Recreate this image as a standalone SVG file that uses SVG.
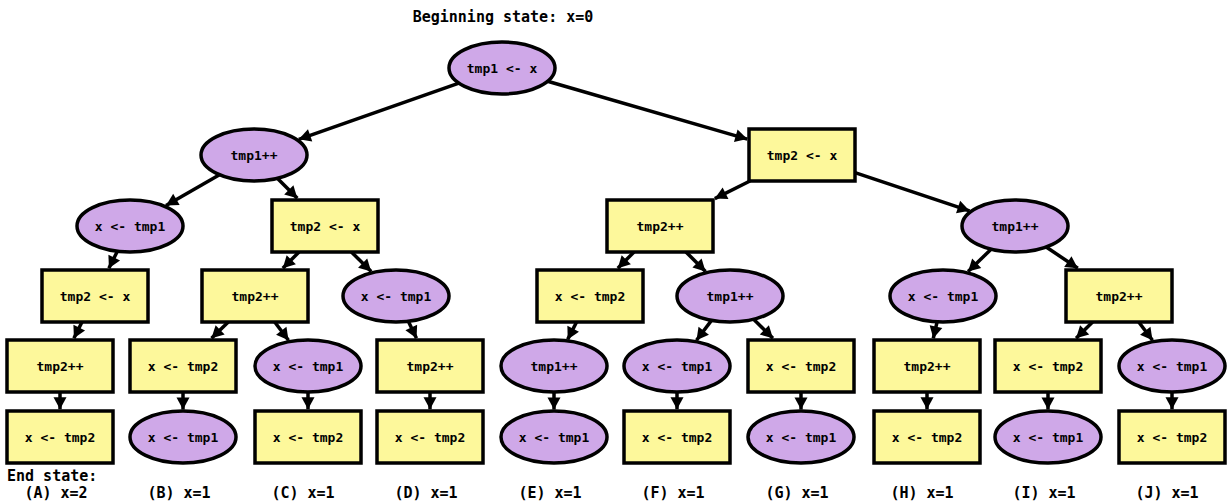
<svg xmlns="http://www.w3.org/2000/svg" width="1230" height="504" viewBox="0 0 1230 504">
<style>
.e{fill:#cfa8e8;stroke:#000;stroke-width:3.5}
.r{fill:#fdf89b;stroke:#000;stroke-width:3.5}
.t{font-family:"DejaVu Sans Mono","Liberation Mono",monospace;font-size:13px;font-weight:bold;text-anchor:middle;fill:#000}
.h{font-family:"DejaVu Sans Mono","Liberation Mono",monospace;font-size:15px;font-weight:bold;fill:#000}
.c line{stroke:#000;stroke-width:3.5;marker-end:url(#a)}
</style>
<defs>
<marker id="a" markerUnits="userSpaceOnUse" markerWidth="14" markerHeight="14" viewBox="-13 -7 14 14" refX="0" refY="0" orient="auto">
<path d="M-12,-6.5 L0,0 L-12,6.5 Z" fill="#000"/>
</marker>
</defs>
<rect width="1230" height="504" fill="#fff"/>
<text class="h" x="503" y="22" text-anchor="middle">Beginning state: x=0</text>
<g class="c" id="edges">
<line x1="458.9" y1="83.1" x2="298.8" y2="139.3"/>
<line x1="547.6" y1="81.2" x2="747.3" y2="139.1"/>
<line x1="219.5" y1="174.7" x2="166" y2="205.4"/>
<line x1="277.3" y1="178.3" x2="297.3" y2="198.3"/>
<line x1="750" y1="181" x2="714.8" y2="198.6"/>
<line x1="855" y1="172.7" x2="969.5" y2="210.8"/>
<line x1="117.4" y1="251.2" x2="108.9" y2="268.3"/>
<line x1="299" y1="252" x2="282.8" y2="268.3"/>
<line x1="351.4" y1="252" x2="371.2" y2="271.5"/>
<line x1="634" y1="252" x2="617.8" y2="268.3"/>
<line x1="686" y1="252" x2="705.5" y2="271.5"/>
<line x1="991.1" y1="249.2" x2="968.1" y2="271.6"/>
<line x1="1046.2" y1="247" x2="1077.8" y2="268.3"/>
<line x1="82" y1="322" x2="73.9" y2="338.3"/>
<line x1="228.3" y1="322" x2="211.5" y2="338.3"/>
<line x1="274.7" y1="322" x2="288.5" y2="340.3"/>
<line x1="408.3" y1="321.3" x2="416.5" y2="338.3"/>
<line x1="576.6" y1="322" x2="567.7" y2="339.4"/>
<line x1="711.5" y1="320.4" x2="696.5" y2="340.3"/>
<line x1="753.6" y1="319.3" x2="772.9" y2="338.3"/>
<line x1="937.1" y1="321.8" x2="933.3" y2="338.3"/>
<line x1="1092.6" y1="322" x2="1076.1" y2="338.3"/>
<line x1="1138.7" y1="322" x2="1152.5" y2="340.3"/>
<line x1="60" y1="392" x2="60" y2="409.3"/>
<line x1="183" y1="392" x2="183" y2="409.5"/>
<line x1="308" y1="392" x2="308" y2="409.3"/>
<line x1="430" y1="392" x2="430" y2="409.3"/>
<line x1="554" y1="392" x2="554" y2="409.5"/>
<line x1="677" y1="392" x2="677" y2="409.3"/>
<line x1="801" y1="392" x2="801" y2="409.5"/>
<line x1="927" y1="392" x2="927" y2="409.3"/>
<line x1="1048" y1="392" x2="1048" y2="409.5"/>
<line x1="1172" y1="392" x2="1172" y2="409.3"/>
</g>
<g id="n0"><ellipse class="e" cx="502" cy="68" rx="53" ry="26"/><text class="t" x="502" y="72.5">tmp1 &lt;- x</text></g>
<g id="n1"><ellipse class="e" cx="254" cy="155" rx="53" ry="26"/><text class="t" x="254" y="159.5">tmp1++</text></g>
<g id="n2"><rect class="r" x="749" y="129" width="106" height="52"/><text class="t" x="802" y="159.5">tmp2 &lt;- x</text></g>
<g id="n3"><ellipse class="e" cx="130" cy="226" rx="53" ry="26"/><text class="t" x="130" y="230.5">x &lt;- tmp1</text></g>
<g id="n4"><rect class="r" x="272" y="200" width="106" height="52"/><text class="t" x="325" y="230.5">tmp2 &lt;- x</text></g>
<g id="n5"><rect class="r" x="607" y="200" width="106" height="52"/><text class="t" x="660" y="230.5">tmp2++</text></g>
<g id="n6"><ellipse class="e" cx="1015" cy="226" rx="53" ry="26"/><text class="t" x="1015" y="230.5">tmp1++</text></g>
<g id="n7"><rect class="r" x="42" y="270" width="106" height="52"/><text class="t" x="95" y="300.5">tmp2 &lt;- x</text></g>
<g id="n8"><rect class="r" x="202" y="270" width="106" height="52"/><text class="t" x="255" y="300.5">tmp2++</text></g>
<g id="n9"><ellipse class="e" cx="396" cy="296" rx="53" ry="26"/><text class="t" x="396" y="300.5">x &lt;- tmp1</text></g>
<g id="n10"><rect class="r" x="537" y="270" width="106" height="52"/><text class="t" x="590" y="300.5">x &lt;- tmp2</text></g>
<g id="n11"><ellipse class="e" cx="730" cy="296" rx="53" ry="26"/><text class="t" x="730" y="300.5">tmp1++</text></g>
<g id="n12"><ellipse class="e" cx="943" cy="296" rx="53" ry="26"/><text class="t" x="943" y="300.5">x &lt;- tmp1</text></g>
<g id="n13"><rect class="r" x="1066" y="270" width="106" height="52"/><text class="t" x="1119" y="300.5">tmp2++</text></g>
<g id="n14"><rect class="r" x="7" y="340" width="106" height="52"/><text class="t" x="60" y="370.5">tmp2++</text></g>
<g id="n15"><rect class="r" x="130" y="340" width="106" height="52"/><text class="t" x="183" y="370.5">x &lt;- tmp2</text></g>
<g id="n16"><ellipse class="e" cx="308" cy="366" rx="53" ry="26"/><text class="t" x="308" y="370.5">x &lt;- tmp1</text></g>
<g id="n17"><rect class="r" x="377" y="340" width="106" height="52"/><text class="t" x="430" y="370.5">tmp2++</text></g>
<g id="n18"><ellipse class="e" cx="554" cy="366" rx="53" ry="26"/><text class="t" x="554" y="370.5">tmp1++</text></g>
<g id="n19"><ellipse class="e" cx="677" cy="366" rx="53" ry="26"/><text class="t" x="677" y="370.5">x &lt;- tmp1</text></g>
<g id="n20"><rect class="r" x="748" y="340" width="106" height="52"/><text class="t" x="801" y="370.5">x &lt;- tmp2</text></g>
<g id="n21"><rect class="r" x="874" y="340" width="106" height="52"/><text class="t" x="927" y="370.5">tmp2++</text></g>
<g id="n22"><rect class="r" x="995" y="340" width="106" height="52"/><text class="t" x="1048" y="370.5">x &lt;- tmp2</text></g>
<g id="n23"><ellipse class="e" cx="1172" cy="366" rx="53" ry="26"/><text class="t" x="1172" y="370.5">x &lt;- tmp1</text></g>
<g id="n24"><rect class="r" x="7" y="411" width="106" height="52"/><text class="t" x="60" y="441.5">x &lt;- tmp2</text></g>
<g id="n25"><ellipse class="e" cx="183" cy="437" rx="53" ry="26"/><text class="t" x="183" y="441.5">x &lt;- tmp1</text></g>
<g id="n26"><rect class="r" x="255" y="411" width="106" height="52"/><text class="t" x="308" y="441.5">x &lt;- tmp2</text></g>
<g id="n27"><rect class="r" x="377" y="411" width="106" height="52"/><text class="t" x="430" y="441.5">x &lt;- tmp2</text></g>
<g id="n28"><ellipse class="e" cx="554" cy="437" rx="53" ry="26"/><text class="t" x="554" y="441.5">x &lt;- tmp1</text></g>
<g id="n29"><rect class="r" x="624" y="411" width="106" height="52"/><text class="t" x="677" y="441.5">x &lt;- tmp2</text></g>
<g id="n30"><ellipse class="e" cx="801" cy="437" rx="53" ry="26"/><text class="t" x="801" y="441.5">x &lt;- tmp1</text></g>
<g id="n31"><rect class="r" x="874" y="411" width="106" height="52"/><text class="t" x="927" y="441.5">x &lt;- tmp2</text></g>
<g id="n32"><ellipse class="e" cx="1048" cy="437" rx="53" ry="26"/><text class="t" x="1048" y="441.5">x &lt;- tmp1</text></g>
<g id="n33"><rect class="r" x="1119" y="411" width="106" height="52"/><text class="t" x="1172" y="441.5">x &lt;- tmp2</text></g>
<g id="labels" class="h">
<text x="7" y="481">End state:</text>
<text x="56" y="498" text-anchor="middle">(A) x=2</text>
<text x="179" y="498" text-anchor="middle">(B) x=1</text>
<text x="303" y="498" text-anchor="middle">(C) x=1</text>
<text x="426" y="498" text-anchor="middle">(D) x=1</text>
<text x="550" y="498" text-anchor="middle">(E) x=1</text>
<text x="673" y="498" text-anchor="middle">(F) x=1</text>
<text x="797" y="498" text-anchor="middle">(G) x=1</text>
<text x="922" y="498" text-anchor="middle">(H) x=1</text>
<text x="1044" y="498" text-anchor="middle">(I) x=1</text>
<text x="1167" y="498" text-anchor="middle">(J) x=1</text>
</g>
</svg>
